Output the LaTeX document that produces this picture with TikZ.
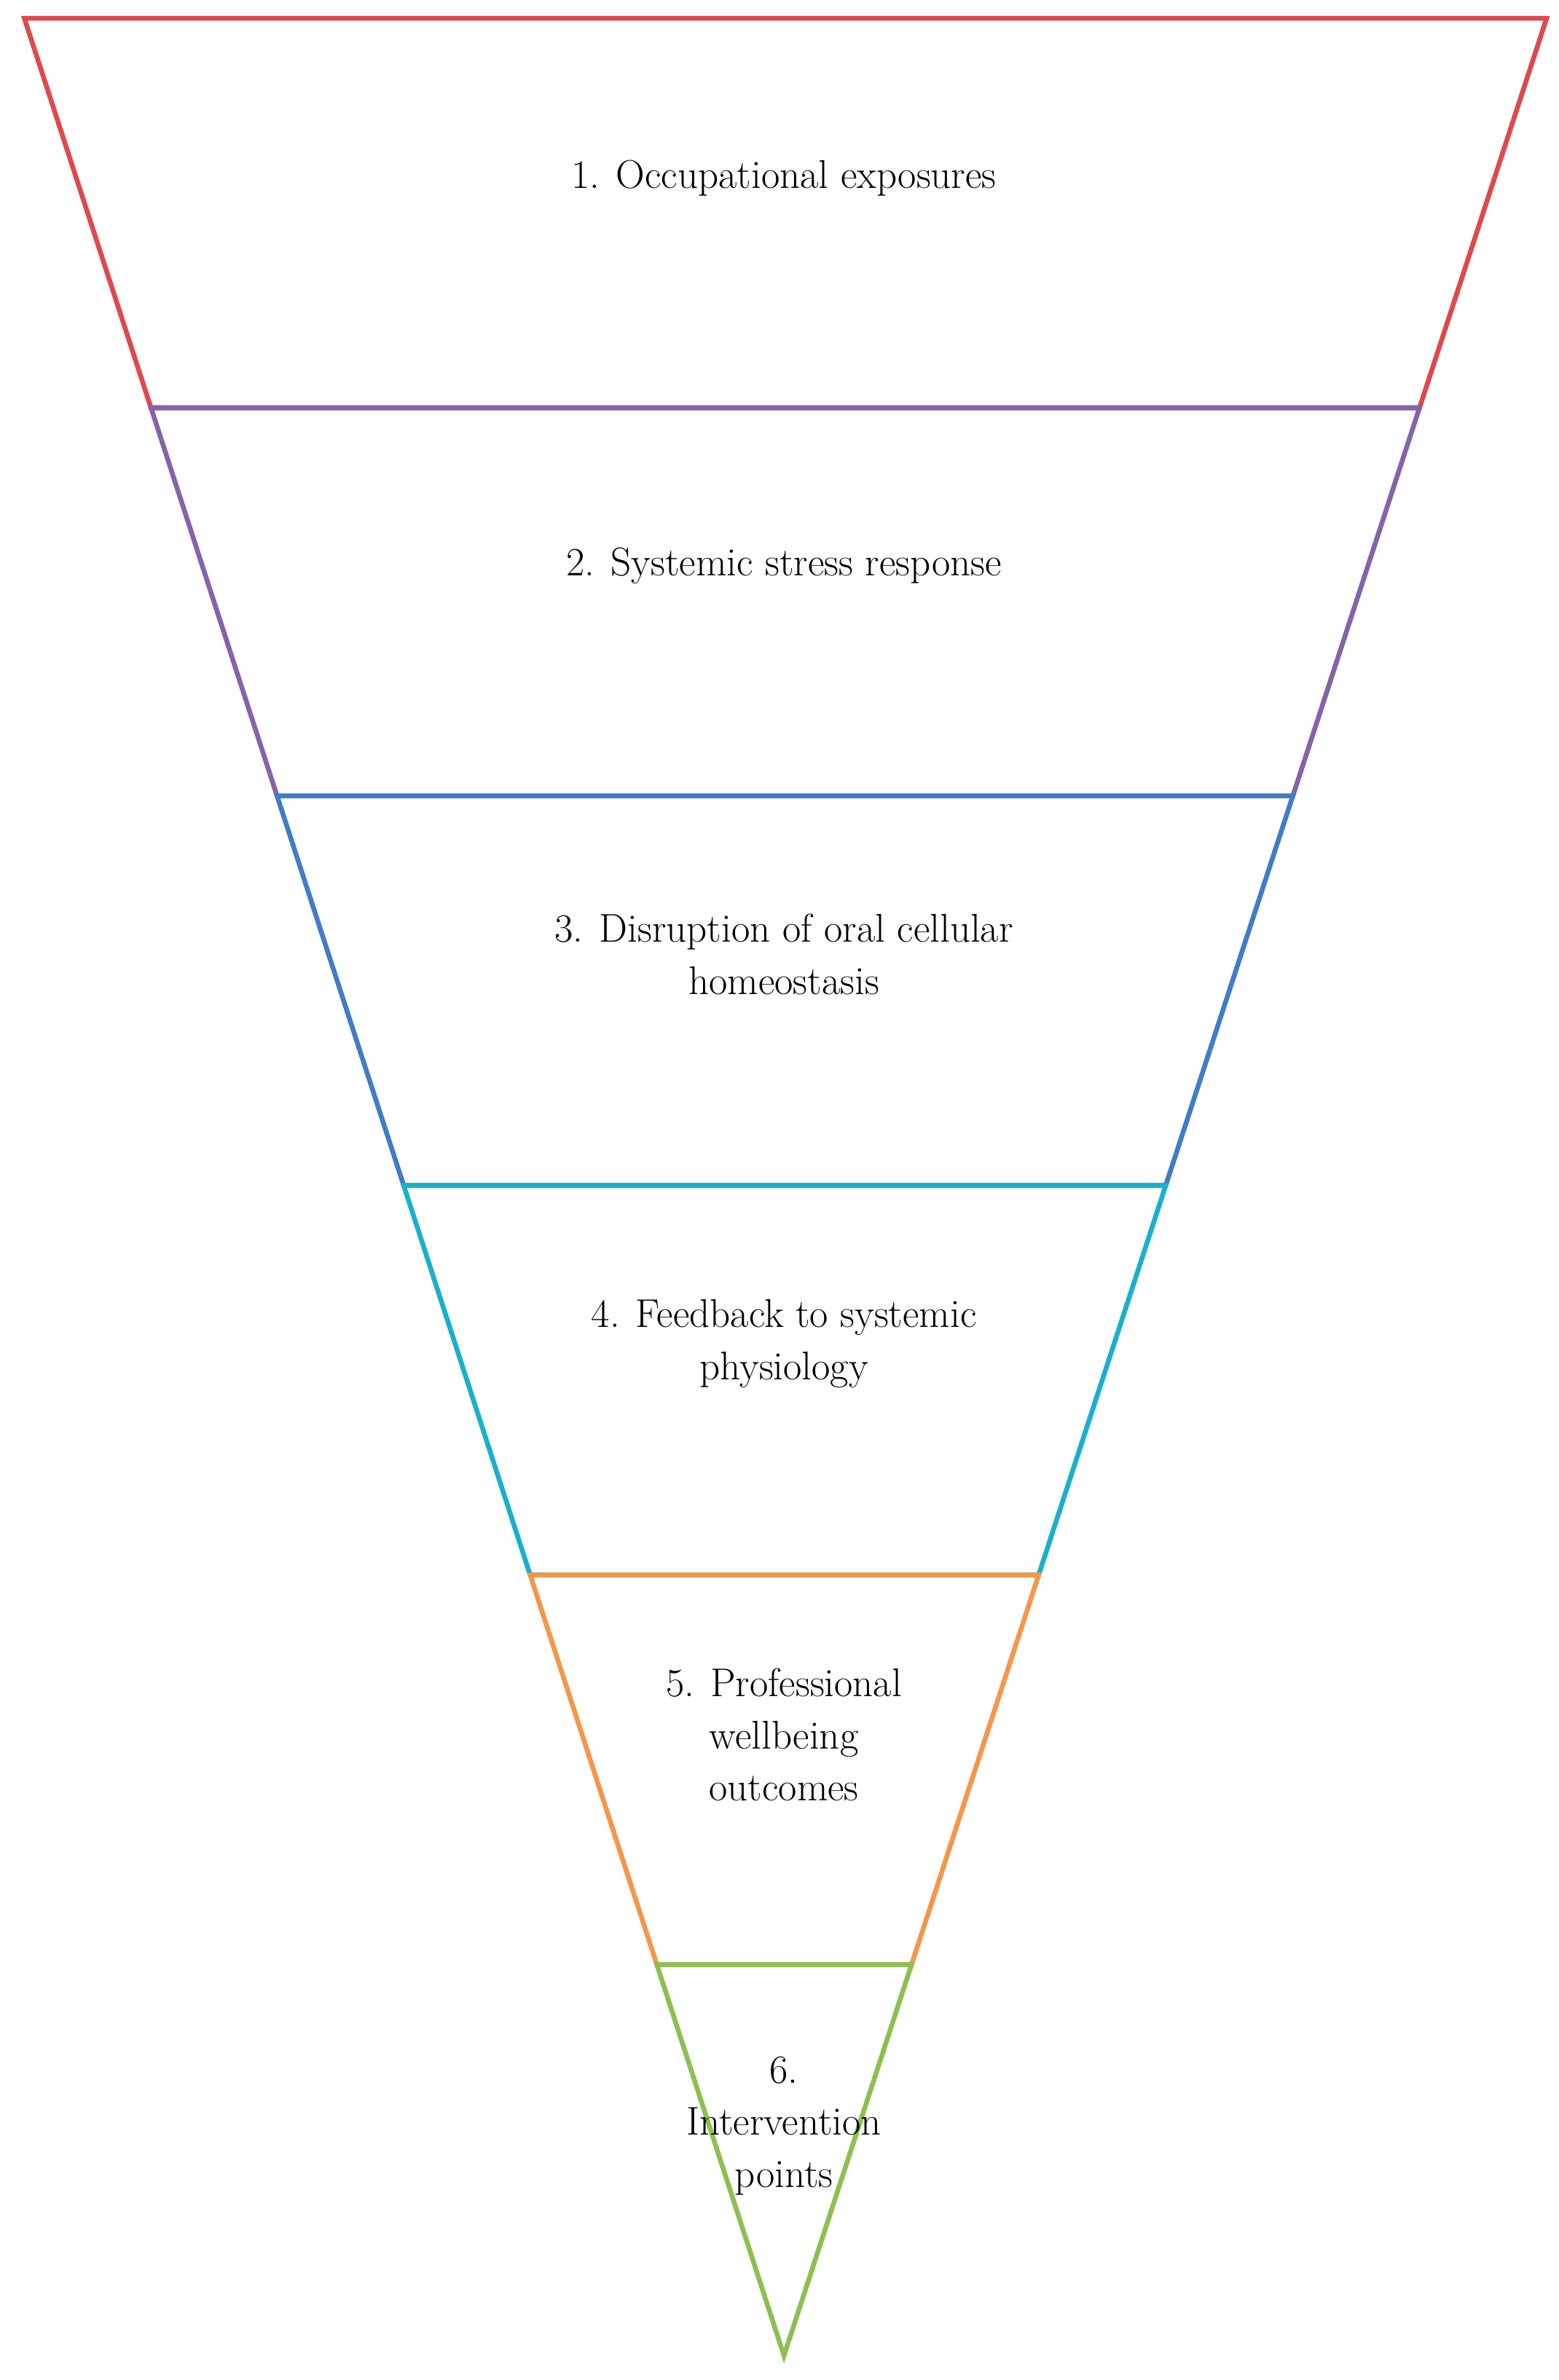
\documentclass[tikz,border=0pt]{standalone}
\usepackage{tikz}
\definecolor{c1}{RGB}{224,72,76}
\definecolor{c2}{RGB}{134,98,172}
\definecolor{c3}{RGB}{64,124,200}
\definecolor{c4}{RGB}{24,176,204}
\definecolor{c5}{RGB}{246,150,72}
\definecolor{c6}{RGB}{140,192,80}
\begin{document}
\begin{tikzpicture}[x=0.02cm,y=-0.02cm,
  band/.style={line width=1.8pt,line join=miter},
  lbl/.style={font=\fontsize{15}{19.5}\selectfont,align=center,inner sep=0pt}]
\useasboundingbox (0,0) rectangle (1024,1564);
% corner coordinates: left x = 16 + (y-12)*499/1536, right x = 1016 - (y-12)*501/1536
\coordinate (L0) at (16,12);   \coordinate (R0) at (1016,12);
\coordinate (L1) at (99.2,268); \coordinate (R1) at (932.5,268);
\coordinate (L2) at (182.0,523); \coordinate (R2) at (849.3,523);
\coordinate (L3) at (265.2,779); \coordinate (R3) at (765.8,779);
\coordinate (L4) at (348.3,1035); \coordinate (R4) at (682.3,1035);
\coordinate (L5) at (431.5,1291); \coordinate (R5) at (598.8,1291);
\coordinate (A) at (515,1548);
\draw[band,c1] (L0) -- (R0) -- (R1) -- (L1) -- cycle;
\draw[band,c2] (L1) -- (R1) -- (R2) -- (L2) -- cycle;
\draw[band,c3] (L2) -- (R2) -- (R3) -- (L3) -- cycle;
\draw[band,c4] (L3) -- (R3) -- (R4) -- (L4) -- cycle;
\draw[band,c5] (L4) -- (R4) -- (R5) -- (L5) -- cycle;
\draw[band,c6] (L5) -- (R5) -- (A) -- cycle;
\node[lbl] (t1) at (515,117) {1. Occupational exposures};
\node[lbl] (t2) at (515,372) {2. Systemic stress response};
\node[lbl] (t3) at (515,627) {3. Disruption of oral cellular\\homeostasis};
\node[lbl] (t4) at (515,883) {4. Feedback to systemic\\physiology};
\node[lbl] (t5) at (515,1140) {5. Professional\\wellbeing\\outcomes};
\node[lbl] (t6) at (515,1397) {6.\\Intervention\\points};
\end{tikzpicture}
\end{document}
